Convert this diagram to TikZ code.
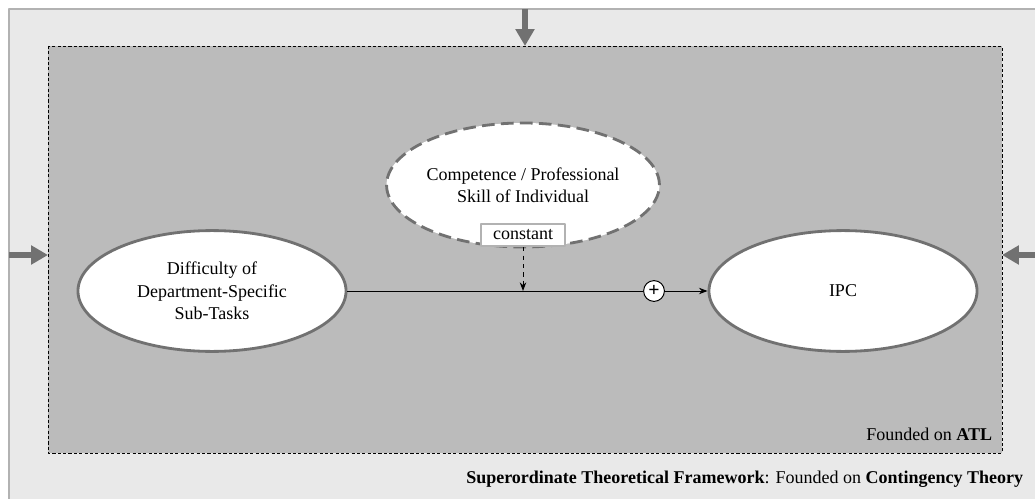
\documentclass[tikz,border=0pt]{standalone}
\usepackage{fontspec}
\setmainfont{Liberation Serif}
\usetikzlibrary{shapes.geometric,arrows.meta}
\definecolor{outerbg}{HTML}{E9E9E9}
\definecolor{outerln}{HTML}{B2B2B2}
\definecolor{innerbg}{HTML}{BBBBBB}
\definecolor{darkln}{HTML}{717171}
\begin{document}
\begin{tikzpicture}[x=0.025cm, y=-0.025cm, font=\fontsize{12.8}{16}\selectfont, line join=round, >=Stealth]
	\tikzset{
		construct/.style={ellipse, draw=darkln, line width=2pt, fill=white, align=center, minimum width=6.7cm, minimum height=3.02cm, inner sep=0pt},
		bigarrow/.style={darkln, line width=4.4pt, -{Triangle[length=12pt,width=13pt]}},
	}
	\useasboundingbox (0,0) rectangle (1035,499);
	% frames
	\draw[outerln, line width=2pt, fill=outerbg] (9,9) rectangle (1045,510);
	\draw[fill=innerbg, line width=0.7pt, dash pattern=on 2.2pt off 1.6pt] (48,46) rectangle (1002,453);
	% influences from the framework
	\coordinate (topin) at (525,9); \coordinate (topend) at (525,46);
	\coordinate (leftin) at (9,255); \coordinate (leftend) at (48,255);
	\coordinate (rightin) at (1040,255); \coordinate (rightend) at (1002,255);
	\draw[bigarrow] (topin)--(topend);
	\draw[bigarrow] (leftin)--(leftend);
	\draw[bigarrow] (rightin)--(rightend);
	% constructs
	\node[construct] (diff) at (212,291) {Difficulty of\\Department-Specific\\Sub-Tasks};
	\node[construct] (ipc) at (843,291) {IPC};
	\node[construct, dash pattern=on 9pt off 4.5pt, minimum width=6.7cm, minimum height=3.1cm] (comp) at (523,185) {Competence / Professional\\Skill of Individual};
	\node[draw=outerln, line width=1.6pt, fill=white, minimum width=2.1cm, minimum height=0.55cm, inner sep=1pt] (const) at (523,235) {constant};
	\node[circle, draw, fill=white, line width=0.7pt, minimum size=0.52cm, inner sep=0pt, font=\fontsize{14}{14}\selectfont\bfseries] (plus) at (654,291) {+};
	\coordinate (hit) at (523,291);
	\draw[line width=0.7pt] (diff.east)--(plus);
	\draw[line width=0.7pt, ->] (plus)--(ipc.west);
	\draw[line width=0.7pt, dashed, ->] (const.south)--(hit);
	% foundations
	\node[anchor=base east] (atl) at (997,440) {Founded on \textbf{ATL}};
	\node[anchor=base east] (frame) at (1028,483) {\textbf{Superordinate Theoretical Framework}: Founded on \textbf{Contingency Theory}};
\end{tikzpicture}
\end{document}
